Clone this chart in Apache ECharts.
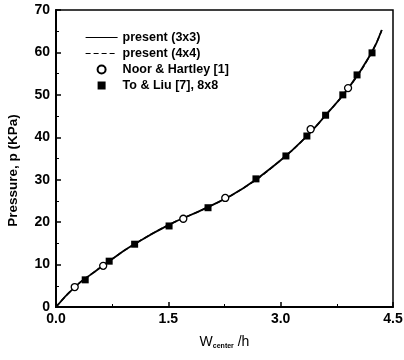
<!DOCTYPE html>
<html>
<head>
<meta charset="utf-8">
<script src="https://cdn.jsdelivr.net/npm/echarts@6/dist/echarts.min.js"></script>
<style>
  html, body { margin: 0; padding: 0; background: #fff; }
  #main { width: 404px; height: 360px; }
</style>
</head>
<body>
<div id="main"></div>
<script>
// curve data (W/h, p)
const curve3x3 = [[0, 0], [0.25, 4.7], [0.5, 8.1], [0.75, 11.3], [1.0, 14.3], [1.5, 19.3], [2.0, 23.3], [2.5, 28.0], [3.0, 34.6], [3.35, 40.3], [3.6, 45.2], [3.9, 51.5], [4.2, 59.5], [4.35, 65.3]];
const curve4x4 = [[0, 0], [0.25, 4.7], [0.5, 8.1], [0.75, 11.3], [1.0, 14.3], [1.5, 19.3], [2.0, 23.3], [2.5, 28.0], [3.0, 34.6], [3.35, 40.3], [3.6, 45.2], [3.9, 51.5], [4.2, 59.5], [4.35, 65.3]];
const noorHartley = [[0.25, 4.7], [0.63, 9.7], [1.70, 20.8], [2.26, 25.7], [3.40, 41.9], [3.90, 51.6]];
const toLiu = [[0.39, 6.4], [0.71, 10.8], [1.05, 14.8], [1.51, 19.1], [2.03, 23.4], [2.67, 30.2], [3.07, 35.6], [3.35, 40.3], [3.60, 45.2], [3.83, 50.0], [4.02, 54.7], [4.22, 59.9]];
const seriesNames = ['present (3x3)', 'present (4x4)', 'Noor & Hartley [1]', 'To & Liu [7], 8x8'];

const myChart = echarts.init(document.querySelector('#main'));
const font = 'Liberation Sans, Arial, sans-serif';
// hide the marker that ECharts puts on a line series legend icon
const noMarker = { color: 'rgba(0,0,0,0)', borderColor: 'rgba(0,0,0,0)', borderWidth: 0 };

const option = {
    animation: false,
    backgroundColor: '#fff',
    grid: {
        left: 56,
        right: 11,
        top: 10,
        bottom: 53,
        outerBoundsMode: 'none',
        show: true,
        borderColor: '#000',
        borderWidth: 1.5
    },
    legend: {
        orient: 'vertical',
        left: 85,
        top: 31,
        padding: 0,
        itemWidth: 32,
        itemHeight: 8,
        itemGap: 3,
        data: [
            { name: seriesNames[0], itemStyle: noMarker, lineStyle: { width: 1.2 } },
            { name: seriesNames[1], itemStyle: noMarker, lineStyle: { width: 1.2 } },
            { name: seriesNames[2], icon: 'circle' },
            { name: seriesNames[3], icon: 'path://M0,0H10V10H0Z' }
        ],
        textStyle: { color: '#000', fontSize: 12.5, fontWeight: 'bold', fontFamily: font }
    },
    xAxis: {
        type: 'value',
        min: 0,
        max: 4.5,
        interval: 1.5,
        name: 'W{sub|center} /h',
        nameLocation: 'middle',
        nameGap: 28,
        nameTextStyle: {
            color: '#000', fontSize: 14, fontFamily: font,
            rich: { sub: { fontSize: 7, fontWeight: 'bold', verticalAlign: 'bottom', padding: [8, 0, 0, 0] } }
        },
        axisLine: { lineStyle: { color: '#000', width: 2 } },
        axisTick: { inside: true, length: 5, lineStyle: { color: '#000', width: 1.5 } },
        minorTick: { show: true, splitNumber: 2, length: 3, lineStyle: { color: '#000' } },
        splitLine: { show: false },
        axisLabel: {
            color: '#000', fontSize: 14, fontWeight: 'bold', fontFamily: font, margin: 5,
            formatter: function (v) { return v.toFixed(1); }
        }
    },
    yAxis: {
        type: 'value',
        min: 0,
        max: 70,
        interval: 10,
        name: 'Pressure, p (KPa)',
        nameLocation: 'middle',
        nameGap: 36,
        nameTextStyle: { color: '#000', fontSize: 13.5, fontWeight: 'bold', fontFamily: font, padding: [0, 24, 0, 0] },
        axisLine: { lineStyle: { color: '#000', width: 2 } },
        axisTick: { inside: true, length: 5, lineStyle: { color: '#000', width: 1.5 } },
        minorTick: { show: true, splitNumber: 2, length: 3, lineStyle: { color: '#000' } },
        splitLine: { show: false },
        axisLabel: { color: '#000', fontSize: 14, fontWeight: 'bold', fontFamily: font, margin: 6 }
    },
    series: [
        {
            name: seriesNames[0],
            type: 'line',
            data: curve3x3,
            smooth: true,
            symbol: 'none',
            z: 2,
            lineStyle: { color: '#000', width: 1.8 },
            itemStyle: { color: '#000' }
        },
        {
            name: seriesNames[1],
            type: 'line',
            data: curve4x4,
            smooth: true,
            symbol: 'none',
            z: 2,
            lineStyle: { color: '#000', width: 1.5, type: [5, 3] },
            itemStyle: { color: '#000' }
        },
        {
            name: seriesNames[2],
            type: 'scatter',
            data: noorHartley,
            symbol: 'circle',
            symbolSize: 7,
            z: 3,
            itemStyle: { color: '#fff', borderColor: '#000', borderWidth: 1.3, opacity: 1 }
        },
        {
            name: seriesNames[3],
            type: 'scatter',
            data: toLiu,
            symbol: 'rect',
            symbolSize: 7,
            z: 4,
            itemStyle: { color: '#000', opacity: 1 }
        }
    ]
};

myChart.setOption(option, true);
</script>
</body>
</html>
